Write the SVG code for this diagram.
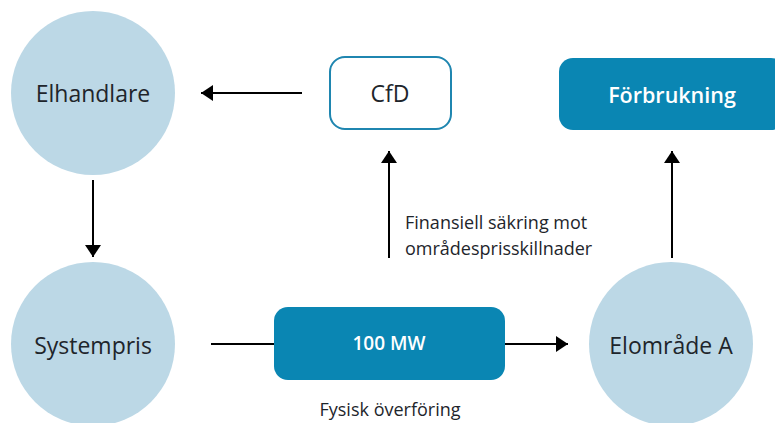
<svg xmlns="http://www.w3.org/2000/svg" width="775" height="423" viewBox="0 0 775 423">
<style>
.circ{fill:#bcd8e6}
.lbl{font-family:"Open Sans","Noto Sans",sans-serif;font-size:23px;fill:#1e252b;text-anchor:middle;dominant-baseline:central}
.wlbl{font-family:"Open Sans","Noto Sans",sans-serif;font-size:21.5px;font-weight:600;fill:#ffffff;text-anchor:middle;dominant-baseline:central}
.small{font-family:"Open Sans","Noto Sans",sans-serif;font-size:18px;fill:#1e252b}
.edge{stroke:#000;stroke-width:2;fill:none}
.filled{fill:#0a86b3}
</style>
<defs>
<marker id="ah" viewBox="0 0 12 16" refX="12" refY="8" markerWidth="12" markerHeight="16" markerUnits="userSpaceOnUse" orient="auto">
<path d="M0,0 L12,8 L0,16 Z" fill="#000"/>
</marker>
</defs>
<rect width="775" height="423" fill="#ffffff"/>
<g id="connectors">
<line class="edge" x1="302" y1="93" x2="201" y2="93" marker-end="url(#ah)"/>
<line class="edge" x1="93" y1="180" x2="93" y2="257" marker-end="url(#ah)"/>
<line class="edge" x1="389" y1="258" x2="389" y2="151" marker-end="url(#ah)"/>
<line class="edge" x1="672" y1="258" x2="672" y2="151" marker-end="url(#ah)"/>
<line class="edge" x1="211" y1="344" x2="274" y2="344"/>
<line class="edge" x1="505" y1="344" x2="568" y2="344" marker-end="url(#ah)"/>
</g>
<g id="elhandlare">
<circle class="circ" cx="93" cy="93" r="82"/>
<text class="lbl" x="93" y="93">Elhandlare</text>
</g>
<g id="systempris">
<circle class="circ" cx="93" cy="344" r="82"/>
<text class="lbl" x="93" y="345">Systempris</text>
</g>
<g id="elomrade">
<circle class="circ" cx="671" cy="344" r="82"/>
<text class="lbl" x="671" y="345">Elområde A</text>
</g>
<g id="cfd">
<rect x="330" y="57" width="121" height="72" rx="15" fill="#ffffff" stroke="#1f86b0" stroke-width="2"/>
<text class="lbl" x="390" y="93">CfD</text>
</g>
<g id="forbrukning">
<rect class="filled" x="559" y="58" width="226" height="72" rx="14"/>
<text class="wlbl" x="672" y="94">Förbrukning</text>
</g>
<g id="mw">
<rect class="filled" x="274" y="307" width="231" height="73" rx="14"/>
<text class="wlbl" x="389" y="343" style="font-size:19px">100 MW</text>
</g>
<g id="labels">
<text class="small" x="405" y="229">Finansiell säkring mot</text>
<text class="small" x="405" y="255">områdesprisskillnader</text>
<text class="small" x="390" y="416" text-anchor="middle">Fysisk överföring</text>
</g>
</svg>
